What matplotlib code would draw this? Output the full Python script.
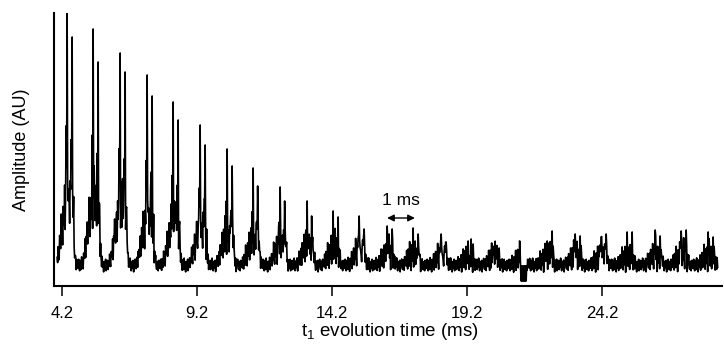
import numpy as np
import matplotlib
matplotlib.use("Agg")
import matplotlib.pyplot as plt

plt.rcParams['font.family'] = ['Liberation Sans', 'DejaVu Sans']
plt.rcParams['mathtext.fontset'] = 'custom'
plt.rcParams['mathtext.rm'] = 'Liberation Sans'
plt.rcParams['mathtext.it'] = 'Liberation Sans:italic'

# ---------------- data ----------------
# time of the first spike of each echo pair (ms)
echo_t = [4.39, 5.35, 6.35, 7.35, 8.31, 9.31, 10.31, 11.27, 12.27, 13.27,
          14.24, 15.20, 16.24, 17.20, 18.24, 19.24, 20.20, 21.20, 22.16, 23.20,
          24.16, 25.13, 26.16, 27.13, 28.13]
# height of first / second spike of each pair (AU)
peak1 = [274, 257, 233, 211, 184, 161, 137, 118, 99, 85,
         75, 70, 60, 58, 52, 45, 40, 44, 45, 52,
         49, 54, 56, 55, 54]
peak2 = [249, 224, 214, 190, 166, 141, 120, 100, 85, 70,
         69, 57, 57, 52, 44, 42, 38, 40, 55, 50,
         52, 54, 50, 56, 49]
# height of the broad echo hump under each pair above the baseline (AU)
hump = [80, 75, 66, 56, 49, 43, 37, 31, 27, 24,
        20, 18, 15, 14, 12, 11, 10, 10, 11, 11,
        11, 11, 12, 12, 12]
pair_gap = 0.185          # ms between the two spikes of a pair
baseline = 21             # AU
# hump shape read from one echo, offsets in ms relative to the first spike
hump_off = [-0.444, -0.407, -0.370, -0.333, -0.296, -0.259, -0.222, -0.185,
            -0.148, -0.111, -0.074, -0.037, 0.0, 0.037, 0.074, 0.111, 0.148,
            0.185, 0.222, 0.259, 0.296, 0.333, 0.370]
hump_shape = [0.0, 0.02, 0.06, 0.12, 0.20, 0.30, 0.40, 0.50, 0.58, 0.66,
              0.75, 0.85, 1.0, 0.95, 0.88, 0.85, 0.90, 0.95, 0.60, 0.30,
              0.10, 0.02, 0.0]
# detector noise wiggle (AU)
noise = [2, -3, 5, -1, -5, 4, 0, -4, 6, -2, 1, -6, 3, -1, -3, 5, -5, 2, 0, 4,
         -4, 1, -2, 6, -1, -5, 3, 1, -3, 4, -6, 2, 0, 5, -2, -4, 1, 3, -5, 4, -1]
trace_start, trace_end, dt = 4.02, 28.50, 1.0 / 54.0
artifact = (21.20, 21.42, 5, 20)      # saturated block near 21.3 ms
tick_vals = [4.2, 9.2, 14.2, 19.2, 24.2]
tick_labels = ["4.2", "9.2", "14.2", "19.2", "24.2"]
arrow_span = (16.24, 17.27)
arrow_y = 68
arrow_text = "1 ms"

# ---------------- build the trace ----------------
t = np.arange(trace_start, trace_end, dt)
n = len(t)
env = np.zeros(n)
prof_total = np.zeros(n)
for T, H in zip(echo_t, hump):
    p = np.interp(t - T, hump_off, hump_shape, left=0, right=0)
    env += H * p
    prof_total += p
nz = np.resize(np.array(noise, float), n)
y = baseline + env + nz * (1.15 + 1.4 * prof_total + 0.045 * env)

for T, P1, P2 in zip(echo_t, peak1, peak2):
    for TT, P in ((T, P1), (T + pair_gap, P2)):
        i = int(np.argmin(np.abs(t - TT)))
        if 0 <= i < n:
            y[i] = P
        if i - 2 >= 0:
            y[i - 2] = baseline + 0.55 * (P - baseline)
        if i + 3 < n:
            y[i + 3] = baseline + 0.3 * (P - baseline)

a0, a1, lo, hi = artifact
idx = np.where((t >= a0) & (t <= a1))[0]
y[idx[::2]] = lo
y[idx[1::2]] = hi

# ---------------- draw ----------------
fig = plt.figure(figsize=(7.24, 3.48), dpi=100)
ax = fig.add_axes([54 / 724, 1 - 286 / 348, (722 - 54) / 724, (286 - 13) / 348])
ax.plot(t, y, color='black', lw=1.2)
ax.set_xlim(3.904, 28.644)
ax.set_ylim(0, 273)

for s in ('top', 'right'):
    ax.spines[s].set_visible(False)
for s in ('left', 'bottom'):
    ax.spines[s].set_linewidth(1.5)
    ax.spines[s].set_color('black')

ax.set_xticks(tick_vals)
ax.set_xticklabels(tick_labels)
ax.set_yticks([])
ax.tick_params(axis='x', direction='out', length=7.2, width=1.1, pad=7,
               labelsize=12, colors='black')

ax.annotate('', xy=(arrow_span[1], arrow_y), xytext=(arrow_span[0], arrow_y),
            arrowprops=dict(arrowstyle='<|-|>', lw=1.0, color='black',
                            shrinkA=0, shrinkB=0, mutation_scale=10))
ax.text(sum(arrow_span) / 2, 86, arrow_text, ha='center', va='center',
        fontsize=12.5)

fig.text(22 / 724, 1 - 150 / 348, 'Amplitude (AU)', rotation=90,
         ha='center', va='center', fontsize=13)
fig.text(390 / 724, 1 - 332 / 348, r't$_\mathregular{1}$ evolution time (ms)',
         ha='center', va='center', fontsize=13.5)

fig.savefig('out.png', dpi=100)
